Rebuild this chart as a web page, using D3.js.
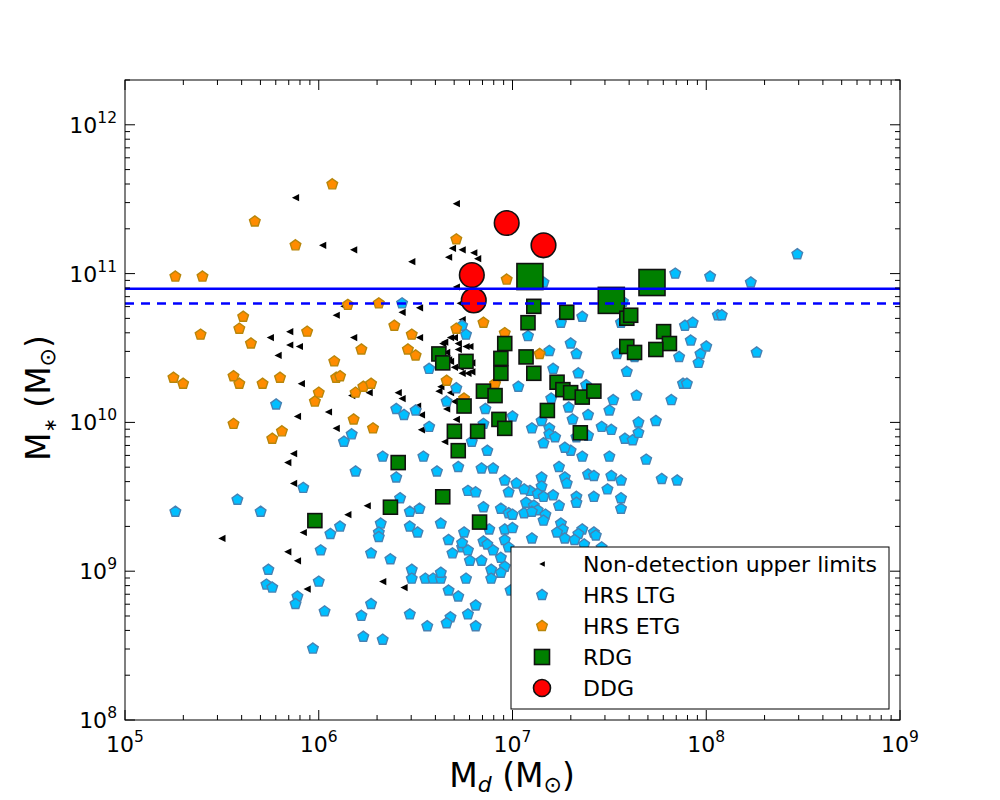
<!DOCTYPE html>
<html><head><meta charset="utf-8">
<script src="https://cdn.jsdelivr.net/npm/d3@7"></script>
<style>body{margin:0;background:#fff} text{font-family:"DejaVu Sans",sans-serif}</style>
</head><body><svg id="c" width="1000" height="800"></svg>
<script>
// ---- data: [log10 Md, log10 M*] ----
const upperLimits = [[5.88,11.51],[6.02,11.19],[6.18,11.16],[6.13,10.78],[6.09,10.72],[5.85,10.61],[5.75,10.57],[6.18,10.57],[5.85,10.52],[5.90,10.51],[5.79,10.45],[5.91,10.26],[6.26,10.20],[6.17,10.18],[6.05,10.07],[5.89,10.04],[6.09,9.96],[5.87,9.79],[5.84,9.73],[5.87,9.59],
[6.71,11.47],[6.69,11.17],[6.74,11.16],[6.80,11.14],[6.67,11.11],[6.82,11.10],[6.48,11.08],[6.71,10.91],[6.73,10.80],[6.52,10.77],[6.43,10.74],[6.74,10.69],[6.68,10.57],[6.70,10.57],[6.52,10.57],[6.64,10.53],[6.65,10.54],[6.72,10.53],[6.76,10.51],[6.78,10.51],[6.72,10.49],[6.66,10.47],[6.67,10.42],[6.68,10.41],[6.79,10.40],[6.79,10.34],[6.70,10.37],[6.73,10.37],[6.74,10.33],[6.77,10.33],[6.63,10.24],[6.62,10.21],[6.68,10.20],[6.41,10.20],[6.43,10.16],[6.70,10.14],[6.51,10.11],[6.53,10.05],[6.66,10.09],[6.71,10.02],[6.53,9.95],[6.65,9.87],
[5.50,9.22],[5.92,9.26],[6.15,9.38],[6.25,9.44],[5.84,9.13],[5.89,9.07],[6.33,8.93],[5.94,8.88],[6.44,8.89]];

const hrsLTG = [[6.43,10.80],[7.16,10.94],[6.74,10.65],[6.76,10.59],[7.08,10.58],[7.25,10.67],[7.30,10.53],
[8.47,11.13],[7.84,11.00],[8.02,10.98],[8.23,10.94],[7.57,10.81],[7.56,10.67],[7.36,10.71],[7.89,10.65],[7.93,10.67],[8.06,10.72],[8.08,10.72],[7.92,10.55],[8.00,10.51],[7.97,10.46],[7.96,10.40],[7.86,10.44],[8.26,10.47],[7.33,10.46],[7.54,10.46],[7.63,10.44],[7.59,10.34],[7.34,10.33],[7.88,10.26],[7.90,10.26],[7.38,10.25],[7.64,10.18],[7.52,10.15],[7.82,10.15],
[7.39,10.05],[7.50,10.08],[7.31,10.02],[7.65,10.00],[7.74,10.01],[7.46,9.97],[7.51,9.95],[7.33,9.90],[7.39,9.91],[7.58,9.89],[7.62,9.88],[7.65,9.93],[7.36,9.77],[7.50,9.77],[7.69,9.75],[7.30,9.81],[7.39,9.65],[7.42,9.64],[7.51,9.64],[7.56,9.61],[7.77,9.62],[7.85,9.61],[7.49,9.55],[7.42,9.50],[7.33,9.50],[7.33,9.46],[7.56,9.49],[7.56,9.42],[7.36,9.28],[7.34,9.25],[7.42,9.26],[7.43,9.24],[7.32,9.21],[7.37,9.18],[7.46,9.16],
[5.78,10.12],[6.17,9.92],[6.13,9.87],[6.33,9.77],[6.19,9.67],[5.92,9.56],[5.58,9.48],
[7.19,10.48],[6.57,10.36],[7.21,10.36],[7.03,10.24],[6.71,10.23],[6.66,10.14],[7.20,10.16],[7.29,10.10],[6.86,10.09],[6.40,10.09],[6.44,10.05],[6.50,10.08],[7.00,10.04],[7.15,10.01],[6.57,9.97],[6.85,9.99],[7.10,9.96],[7.19,9.96],[7.19,9.92],[7.22,9.90],[7.16,9.86],[7.27,9.83],[6.79,9.87],[6.87,9.81],[6.54,9.77],[6.40,9.63],[6.61,9.67],[6.72,9.70],[6.84,9.69],[6.90,9.69],[7.24,9.70],[6.96,9.61],[7.02,9.59],[7.09,9.54],[7.15,9.63],[7.15,9.57],[7.27,9.63],[7.28,9.59],[6.77,9.54],[6.81,9.53],[6.98,9.53],[7.06,9.55],[7.21,9.51],[6.42,9.49],
[5.70,9.40],[6.11,9.30],[6.06,9.25],[6.32,9.32],[6.31,9.26],[6.31,9.23],[6.01,9.14],[6.27,9.12],[6.37,9.08],[5.74,9.01],[5.73,8.91],[5.76,8.89],[6.00,8.93],[5.89,8.83],[5.88,8.78],[6.27,8.78],[6.03,8.73],[6.22,8.70],[6.23,8.56],[6.33,8.54],[5.97,8.48],
[6.47,9.40],[6.52,9.42],[7.13,9.52],[7.16,9.50],[7.07,9.46],[7.11,9.44],[7.13,9.41],[7.24,9.44],[7.17,9.38],[7.16,9.34],[6.85,9.43],[6.94,9.42],[6.98,9.39],[7.00,9.38],[7.06,9.39],[7.10,9.40],[6.47,9.30],[6.51,9.26],[6.63,9.32],[6.75,9.26],[6.88,9.28],[6.96,9.28],[7.00,9.29],[7.10,9.22],[7.25,9.32],[7.26,9.28],[7.23,9.26],[7.27,9.22],[6.67,9.21],[6.74,9.16],[6.74,9.19],[6.77,9.14],[6.85,9.20],[6.87,9.18],[6.90,9.14],[6.96,9.21],[6.98,9.16],[6.69,9.12],[6.78,9.07],[6.84,9.07],[6.94,9.09],[6.96,9.03],[6.48,9.01],[6.48,8.95],[6.55,8.95],[6.59,8.95],[6.63,8.95],[6.63,8.99],[6.76,8.95],[6.89,9.01],[6.89,8.95],[6.94,8.99],[6.99,8.87],[6.67,8.87],[6.72,8.83],[6.81,8.77],[6.77,8.71],[6.68,8.69],[6.66,8.65],[6.81,8.63],[6.47,8.71],[6.56,8.63],
[5.26,9.40]];

const hrsETG = [[6.07,11.60],[5.67,11.35],[5.88,11.19],[5.40,10.98],[6.15,10.79],[6.31,10.80],[5.61,10.71],[5.59,10.63],[5.39,10.59],[5.94,10.61],[5.65,10.53],[6.22,10.49],[6.08,10.41],[5.56,10.31],[5.59,10.26],[5.71,10.26],[5.80,10.30],[6.09,10.30],[6.11,10.31],[6.00,10.20],[5.98,10.14],[6.19,10.20],[6.23,10.24],[6.27,10.26],[6.18,10.02],[6.28,9.96],[5.56,9.99],[5.81,9.94],[5.76,9.89],[6.71,11.23],[6.97,10.96],[6.39,10.65],[6.48,10.59],[6.85,10.67],[6.71,10.63],[6.96,10.60],[6.46,10.49],[6.50,10.45],[7.14,10.46],[6.66,10.28],[6.91,10.26],[6.75,10.16],
[5.26,10.98],[5.25,10.30],[5.30,10.26]];

const rdg = [[7.09,10.98],[7.51,10.82],[7.72,10.94],[7.11,10.78],[7.28,10.74],[7.08,10.67],[7.59,10.70],[7.61,10.72],[7.78,10.61],[7.81,10.53],[7.74,10.49],[7.59,10.51],[7.63,10.47],[6.96,10.53],[6.62,10.46],[6.64,10.40],[6.76,10.41],[6.94,10.43],[7.07,10.44],[6.94,10.33],[7.11,10.33],[7.23,10.27],[7.26,10.22],[7.30,10.20],[7.36,10.17],[7.42,10.21],[6.85,10.21],[6.91,10.18],[6.75,10.11],[7.18,10.08],[6.93,10.02],[6.96,9.96],[6.70,9.94],[6.82,9.94],[7.35,9.93],[6.72,9.81],[6.41,9.73],[6.64,9.50],[5.98,9.34],[6.37,9.43],[6.83,9.33]];
const rdgFlag = [1,1,1,0,0,0,0,0,0,0,0,0,0,0,0,0,0,0,0,0,0,0,0,0,0,0,0,0,0,0,0,0,0,0,0,0,0,0,0,0,0];

const ddg = [[6.97,11.34],[7.16,11.19],[6.79,10.99],[6.80,10.82]];

const refLines = [7.9e10, 6.3e10];
const xTickExps = [5,6,7,8,9];
const yTickExps = [8,9,10,11,12];
const legendLabels = ["Non-detection upper limits","HRS LTG","HRS ETG","RDG","DDG"];

// ---- drawing ----
const svg = d3.select("#c");
const L=125,R=900,T=80,B=720;
const x = d3.scaleLog().domain([1e5,1e9]).range([L,R]);
const y = d3.scaleLog().domain([1e8,2e12]).range([B,T]);
const px = d => x(Math.pow(10,d[0])), py = d => y(Math.pow(10,d[1]));

svg.append("rect").attr("width",1000).attr("height",800).attr("fill","#fff");

svg.append("clipPath").attr("id","clp").append("rect").attr("x",L).attr("y",T).attr("width",R-L).attr("height",B-T);
const g = svg.append("g").attr("clip-path","url(#clp)");

function pent(r){ let p=[]; for(let k=0;k<5;k++){const a=-Math.PI/2+k*2*Math.PI/5; p.push([r*Math.cos(a), r*Math.sin(a)]);} return "M"+p.map(q=>q.join(",")).join("L")+"Z"; }
function triLeft(s){ return `M${-s},0L${s},${-s}L${s},${s}Z`; }

g.selectAll(".ul").data(upperLimits).join("path").attr("d",triLeft(3.6))
  .attr("transform",d=>`translate(${px(d)},${py(d)})`).attr("fill","#000");
g.selectAll(".ltg").data(hrsLTG).join("path").attr("d",pent(5.6))
  .attr("transform",d=>`translate(${px(d)},${py(d)})`).attr("fill","#00bfff").attr("stroke","#4682b4").attr("stroke-width",1.4);
g.selectAll(".etg").data(hrsETG).join("path").attr("d",pent(5.6))
  .attr("transform",d=>`translate(${px(d)},${py(d)})`).attr("fill","#ff8c00").attr("stroke","#b8860b").attr("stroke-width",1.4);
g.selectAll(".rdg").data(rdg.map((d,i)=>({d,big:rdgFlag[i]}))).join("rect")
  .attr("x",o=>px(o.d)-(o.big?13:7)).attr("y",o=>py(o.d)-(o.big?13:7))
  .attr("width",o=>o.big?26:14).attr("height",o=>o.big?26:14)
  .attr("fill","#008000").attr("stroke","#111").attr("stroke-width",1.6);
g.selectAll(".ddg").data(ddg).join("circle").attr("cx",px).attr("cy",py).attr("r",12.3)
  .attr("fill","#ff0000").attr("stroke","#111").attr("stroke-width",1.6);

g.selectAll(".ref").data(refLines).join("line")
  .attr("x1",L).attr("x2",R).attr("y1",d=>y(d)).attr("y2",d=>y(d))
  .attr("stroke","#0000ff").attr("stroke-width",2.5).attr("stroke-dasharray",(d,i)=>i?"9,7":null);

// ticks
function minorVals(lo,hi){ const v=[]; for(let e=lo;e<hi;e++) for(let m=2;m<=9;m++) v.push(m*Math.pow(10,e)); return v; }
const xMaj = xTickExps.map(e=>Math.pow(10,e)), yMaj = yTickExps.map(e=>Math.pow(10,e));
const xMin = minorVals(5,9), yMin = minorVals(8,12).concat([2e12]).filter(v=>v<=2e12 && !yMaj.includes(v));
const tk = svg.append("g").attr("stroke","#000").attr("stroke-width",1);
[[xMaj,10],[xMin,5]].forEach(([vals,len])=>vals.forEach(v=>{
  tk.append("line").attr("x1",x(v)).attr("x2",x(v)).attr("y1",B).attr("y2",B-len);
  tk.append("line").attr("x1",x(v)).attr("x2",x(v)).attr("y1",T).attr("y2",T+len);
}));
[[yMaj,10],[yMin,5]].forEach(([vals,len])=>vals.forEach(v=>{
  tk.append("line").attr("y1",y(v)).attr("y2",y(v)).attr("x1",L).attr("x2",L+len);
  tk.append("line").attr("y1",y(v)).attr("y2",y(v)).attr("x1",R).attr("x2",R-len);
}));
svg.append("rect").attr("x",L).attr("y",T).attr("width",R-L).attr("height",B-T).attr("fill","none").attr("stroke","#000").attr("stroke-width",1);

// tick labels
xTickExps.forEach(e=>{
  const t = svg.append("text").attr("x",x(Math.pow(10,e))).attr("y",752).attr("text-anchor","middle").attr("font-size",22);
  t.append("tspan").text("10"); t.append("tspan").attr("font-size",15.5).attr("dy",-10).text(e);
});
yTickExps.forEach(e=>{
  const t = svg.append("text").attr("x",117).attr("y",y(Math.pow(10,e))+8).attr("text-anchor","end").attr("font-size",22);
  t.append("tspan").text("10"); t.append("tspan").attr("font-size",15.5).attr("dy",-10).text(e);
});

// axis labels
const xl = svg.append("text").attr("x",512).attr("y",787).attr("text-anchor","middle").attr("font-size",33);
xl.append("tspan").text("M");
xl.append("tspan").attr("font-size",22).attr("font-style","italic").attr("dy",5).text("d");
xl.append("tspan").attr("dy",-5).text(" (M");
xl.append("tspan").attr("font-size",22).attr("dy",5).text("\u2299");
xl.append("tspan").attr("dy",-5).text(")");

const yl = svg.append("text").attr("transform","translate(50,398) rotate(-90)").attr("text-anchor","middle").attr("font-size",33);
yl.append("tspan").text("M");
yl.append("tspan").attr("font-size",17).attr("dy",6).text("\u2217");
yl.append("tspan").attr("dy",-6).text(" (M");
yl.append("tspan").attr("font-size",22).attr("dy",5).text("\u2299");
yl.append("tspan").attr("dy",-5).text(")");

// legend
const lg = svg.append("g");
lg.append("rect").attr("x",511).attr("y",547).attr("width",378).attr("height",162).attr("fill","#fff").attr("stroke","#000").attr("stroke-width",1);
const rowY = i => 564 + i*31, mx = 542;
lg.append("path").attr("d",triLeft(2.8)).attr("transform",`translate(${mx},${rowY(0)})`).attr("fill","#000");
lg.append("path").attr("d",pent(5.6)).attr("transform",`translate(${mx},${rowY(1)})`).attr("fill","#00bfff").attr("stroke","#4682b4").attr("stroke-width",1.4);
lg.append("path").attr("d",pent(5.6)).attr("transform",`translate(${mx},${rowY(2)})`).attr("fill","#ff8c00").attr("stroke","#b8860b").attr("stroke-width",1.4);
lg.append("rect").attr("x",mx-7.5).attr("y",rowY(3)-7.5).attr("width",15).attr("height",15).attr("fill","#008000").attr("stroke","#111").attr("stroke-width",1.6);
lg.append("circle").attr("cx",mx).attr("cy",rowY(4)).attr("r",8.5).attr("fill","#ff0000").attr("stroke","#111").attr("stroke-width",1.6);
legendLabels.forEach((s,i)=>lg.append("text").attr("x",583).attr("y",rowY(i)+8).attr("font-size",22).text(s));
</script></body></html>
